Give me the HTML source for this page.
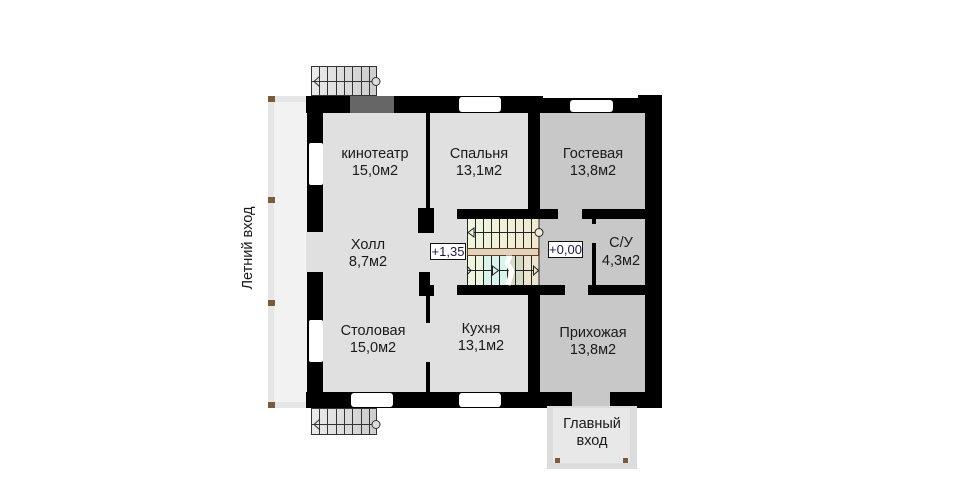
<!DOCTYPE html>
<html><head><meta charset="utf-8"><style>
html,body{margin:0;padding:0;background:#fff;}
svg{display:block;}
text{font-family:"Liberation Sans",Arial,sans-serif;fill:#1a1a1a;}
</style></head><body>
<svg width="970" height="500" viewBox="0 0 970 500" xmlns="http://www.w3.org/2000/svg">
<defs>
<linearGradient id="stg" x1="0" x2="1" y1="0" y2="0"><stop offset="0" stop-color="#ebebeb"/><stop offset="1" stop-color="#cdcdcd"/></linearGradient>
<linearGradient id="fl" x1="0" x2="1" y1="0" y2="0"><stop offset="0" stop-color="#eef6e0"/><stop offset="1" stop-color="#f1e8cf"/></linearGradient>
</defs>
<rect width="970" height="500" fill="#fff"/>

<!-- terrace -->
<rect x="268" y="96" width="39" height="312" fill="#e6e6e6"/>
<rect x="274" y="102" width="33" height="300" fill="#f2f2f2"/>
<g fill="#7b5b3e">
<rect x="268" y="96" width="7" height="6"/><rect x="268" y="197" width="7" height="6"/>
<rect x="268" y="300" width="7" height="6"/><rect x="268" y="402" width="7" height="6"/>
</g>
<text x="0" y="0" font-size="14.5" text-anchor="middle" transform="translate(252,248) rotate(-90)">Летний вход</text>

<!-- rooms -->
<rect x="323" y="113" width="206" height="279" fill="#e0e0e0"/>
<rect x="539" y="113" width="106" height="279" fill="#c8c8c8"/>

<!-- walls -->
<g fill="#000">
<rect x="306" y="96" width="237" height="17"/>
<rect x="543" y="98" width="102" height="15"/>
<rect x="638" y="95" width="24" height="18"/>
<rect x="645" y="95" width="17" height="313"/>
<rect x="306" y="392" width="266" height="16"/>
<rect x="610" y="392" width="52" height="16"/>
<rect x="307" y="96" width="16" height="312"/>
<rect x="426" y="113" width="4" height="97"/>
<rect x="528" y="113" width="12" height="97"/>
<rect x="528" y="295" width="12" height="97"/>
<rect x="418" y="208" width="16" height="25"/>
<rect x="419" y="272" width="11" height="24"/>
<rect x="419" y="285" width="15" height="11"/>
<rect x="426" y="296" width="4" height="27"/>
<rect x="426" y="362" width="4" height="30"/>
<rect x="457" y="209" width="101" height="10"/>
<rect x="457" y="285" width="108" height="10"/>
<rect x="582" y="209" width="63" height="10"/>
<rect x="592" y="219" width="4" height="5"/>
<rect x="592" y="243" width="4" height="42"/>
<rect x="588" y="285" width="57" height="10"/>
</g>
<!-- openings -->
<rect x="306" y="232" width="17" height="40" fill="#e0e0e0"/>
<rect x="572" y="392" width="38" height="16" fill="#c8c8c8"/>
<!-- windows -->
<g fill="#fff">
<rect x="309" y="143" width="14" height="42" rx="2"/>
<rect x="309" y="320" width="14" height="42" rx="2"/>
<rect x="459" y="97" width="42" height="15" rx="3"/>
<rect x="570" y="100" width="43" height="12" rx="3"/>
<rect x="351" y="393" width="42" height="14" rx="3"/>
<rect x="459" y="393" width="42" height="14" rx="3"/>
</g>
<rect x="350" y="96" width="44" height="17" fill="#666"/>

<!-- outside stairs -->
<g stroke="#333" stroke-width="1" fill="none">
<rect x="311.5" y="66.5" width="65" height="29" fill="url(#stg)"/>
<path d="M319.5 66v30M327.5 66v30M336.5 66v30M344.5 66v30M352.5 66v30M361.5 66v30M369.5 66v30M311 81.5h66"/>
<path d="M320 76l-6 5.5l6 5.5"/>
<circle cx="376" cy="81.5" r="4" fill="#ddd"/>
<rect x="311.5" y="408.5" width="65" height="26" fill="url(#stg)"/>
<path d="M319.5 408v27M327.5 408v27M336.5 408v27M344.5 408v27M352.5 408v27M361.5 408v27M369.5 408v27M311 424.5h66"/>
<path d="M320 419l-6 5.5l6 5.5"/>
<circle cx="376" cy="424.5" r="4" fill="#ddd"/>
</g>

<!-- interior stair -->
<rect x="467" y="219" width="72" height="30" fill="url(#fl)"/>
<rect x="467" y="255" width="16" height="30" fill="#eef6e0"/>
<rect x="483" y="255" width="24" height="30" fill="#d8f4ec"/>
<rect x="507" y="255" width="16" height="30" fill="#d6d9c6"/>
<rect x="523" y="255" width="16" height="30" fill="#ede5cd"/>
<g stroke="#222" stroke-width="1" fill="none">
<path d="M467.5 219v66M475.5 219v66M483.5 219v66M491.5 219v66M499.5 219v66M507.5 219v66M515.5 219v66M523.5 219v66M531.5 219v66M539 219v66"/>
<path d="M467 232.5h72M467 270.5h72"/>
<path d="M474 228l-6 4.5l6 4.5z" fill="#eef6e0"/>
<circle cx="539" cy="232.5" r="4" fill="#efe8d2"/>
<path d="M467 266l4 4.5l-4 4.5" />
<path d="M492.5 266l6 4.5l-6 4.5z" fill="#d8f4ec"/>
<path d="M533.5 266l5 4.5l-5 4.5z" fill="#ede5cd"/>
</g>
<polyline points="510,256 507,263 512,271 508,285" fill="none" stroke="#fff" stroke-width="5"/>
<rect x="467.5" y="248.5" width="71" height="7" fill="#ddd4c4" stroke="#6b3a10" stroke-width="1"/>
<rect x="506" y="255.5" width="6" height="1.5" fill="#fff"/>

<!-- level labels -->
<rect x="430.5" y="243.5" width="35" height="16" fill="#fff" stroke="#111"/>
<text x="448" y="256" font-size="13" text-anchor="middle" style="fill:#1a1a4a">+1,35</text>
<rect x="548.5" y="241.5" width="34" height="16" fill="#fff" stroke="#111"/>
<text x="565.5" y="254" font-size="13" text-anchor="middle" style="fill:#1a1a4a">+0,00</text>

<!-- main entrance porch -->
<rect x="547" y="406" width="90" height="63" fill="#dcdcdc"/>
<rect x="553" y="408" width="77" height="55" fill="#e8e8e8"/>
<rect x="555" y="458" width="5" height="5" fill="#7b5b3e"/>
<rect x="623" y="458" width="5" height="5" fill="#7b5b3e"/>

<!-- labels -->
<g font-size="14.5" text-anchor="middle">
<text x="375" y="158">кинотеатр</text><text x="375" y="175">15,0м2</text>
<text x="479" y="158">Спальня</text><text x="479" y="175">13,1м2</text>
<text x="593" y="158">Гостевая</text><text x="593" y="175">13,8м2</text>
<text x="368" y="249">Холл</text><text x="368" y="266">8,7м2</text>
<text x="621" y="247">С/У</text><text x="621" y="265">4,3м2</text>
<text x="373" y="335">Столовая</text><text x="373" y="352">15,0м2</text>
<text x="481" y="333">Кухня</text><text x="481" y="350">13,1м2</text>
<text x="593" y="337">Прихожая</text><text x="593" y="354">13,8м2</text>
<text x="592" y="428">Главный</text><text x="592" y="445">вход</text>
</g>
</svg>
</body></html>
